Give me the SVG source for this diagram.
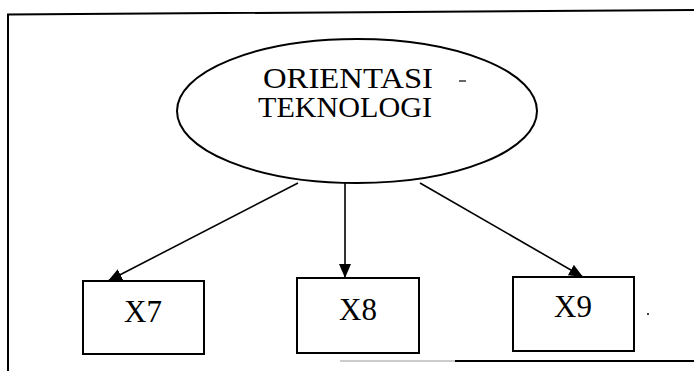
<svg xmlns="http://www.w3.org/2000/svg" width="694" height="371" viewBox="0 0 694 371">
  <style>
    .frame { stroke: #000; stroke-width: 2; fill: none; }
    .shape { stroke: #000; stroke-width: 2; fill: #fff; }
    .edge { stroke: #000; stroke-width: 1.6; fill: none; marker-end: url(#arrow); }
    .label { font-family: "Liberation Serif", "Times New Roman", serif; fill: #000; text-anchor: middle; }
  </style>
  <defs>
    <marker id="arrow" viewBox="0 0 10 10" refX="10" refY="5" markerWidth="14" markerHeight="12" markerUnits="userSpaceOnUse" orient="auto" preserveAspectRatio="none">
      <path d="M0,0 L10,5 L0,10 Z" fill="#000"/>
    </marker>
  </defs>
  <rect width="694" height="371" fill="#fff"/>

  <!-- page frame -->
  <g id="frame">
    <path class="frame" d="M8,371 L8,14.5 L694,10"/>
    <line x1="340" y1="361" x2="455" y2="361" stroke="#999" stroke-width="1"/>
    <line x1="455" y1="361" x2="694" y2="361" stroke="#000" stroke-width="2"/>
  </g>

  <!-- connectors -->
  <g id="connectors">
    <line class="edge" x1="298" y1="183" x2="108" y2="281"/>
    <line class="edge" x1="345" y1="183" x2="345" y2="278"/>
    <line class="edge" x1="420" y1="183" x2="583" y2="277"/>
  </g>

  <g id="orientasi-teknologi">
    <ellipse class="shape" cx="357" cy="111" rx="180" ry="72"/>
    <text class="label" x="348" y="88" font-size="29" textLength="170" lengthAdjust="spacingAndGlyphs">ORIENTASI</text>
    <text class="label" x="345" y="117" font-size="29" textLength="174" lengthAdjust="spacingAndGlyphs">TEKNOLOGI</text>
    <line x1="459" y1="81" x2="466" y2="81" stroke="#000" stroke-width="1.2"/>
  </g>

  <g id="x7">
    <rect class="shape" x="83" y="281" width="121" height="73"/>
    <text class="label" x="143" y="322" font-size="31">X7</text>
  </g>

  <g id="x8">
    <rect class="shape" x="297" y="278" width="122" height="75"/>
    <text class="label" x="358" y="320" font-size="31">X8</text>
  </g>

  <g id="x9">
    <rect class="shape" x="513" y="277" width="121" height="74"/>
    <text class="label" x="573" y="317" font-size="31">X9</text>
    <circle cx="648" cy="314" r="1" fill="#000"/>
  </g>
</svg>
